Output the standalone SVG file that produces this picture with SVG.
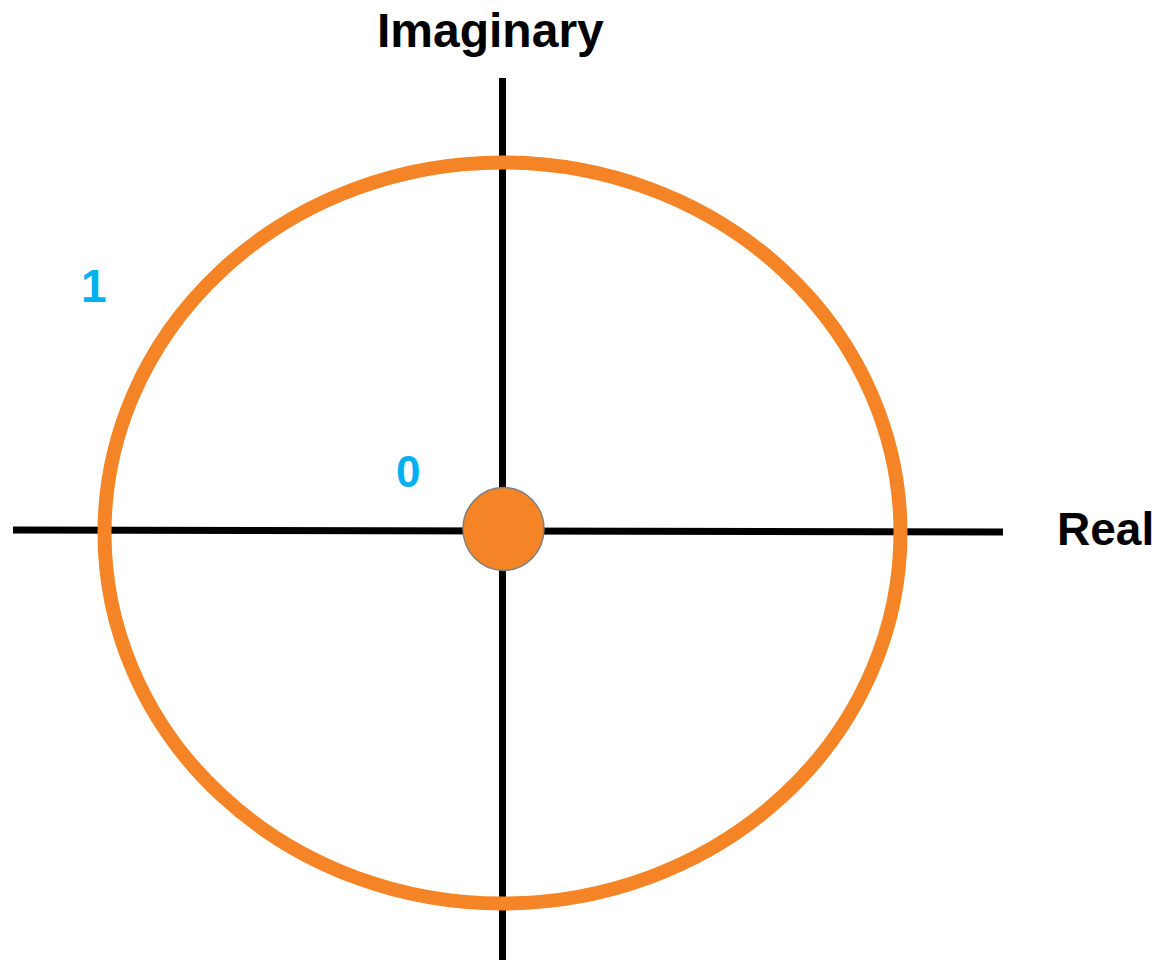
<svg xmlns="http://www.w3.org/2000/svg" width="1163" height="960" viewBox="0 0 1163 960">
<style>
.axis{stroke:#000;stroke-width:7;fill:none}
.lbl{font-family:"Liberation Sans",Arial,sans-serif;font-weight:bold;fill:#000}
.num{font-family:"Liberation Sans",Arial,sans-serif;font-weight:bold;fill:#00B0F0}
</style>
<rect width="1163" height="960" fill="#fff"/>
<g id="axes">
<line class="axis" x1="13" y1="530" x2="1003" y2="532"/>
<line class="axis" x1="502.5" y1="78" x2="502.5" y2="960"/>
</g>
<g id="unit-circle">
<ellipse cx="502.5" cy="533" rx="398" ry="370.5" fill="none" stroke="#F58426" stroke-width="14"/>
</g>
<g id="origin">
<ellipse cx="503.5" cy="529" rx="40.5" ry="41.5" fill="#F58426" stroke="#7F7F7F" stroke-width="1.5"/>
</g>
<g id="labels">
<text class="lbl" x="377" y="47" font-size="48">Imaginary</text>
<text class="lbl" x="1057" y="545" font-size="46">Real</text>
<text class="num" x="81" y="302" font-size="46">1</text>
<text class="num" x="396" y="487" font-size="44">0</text>
</g>
</svg>
